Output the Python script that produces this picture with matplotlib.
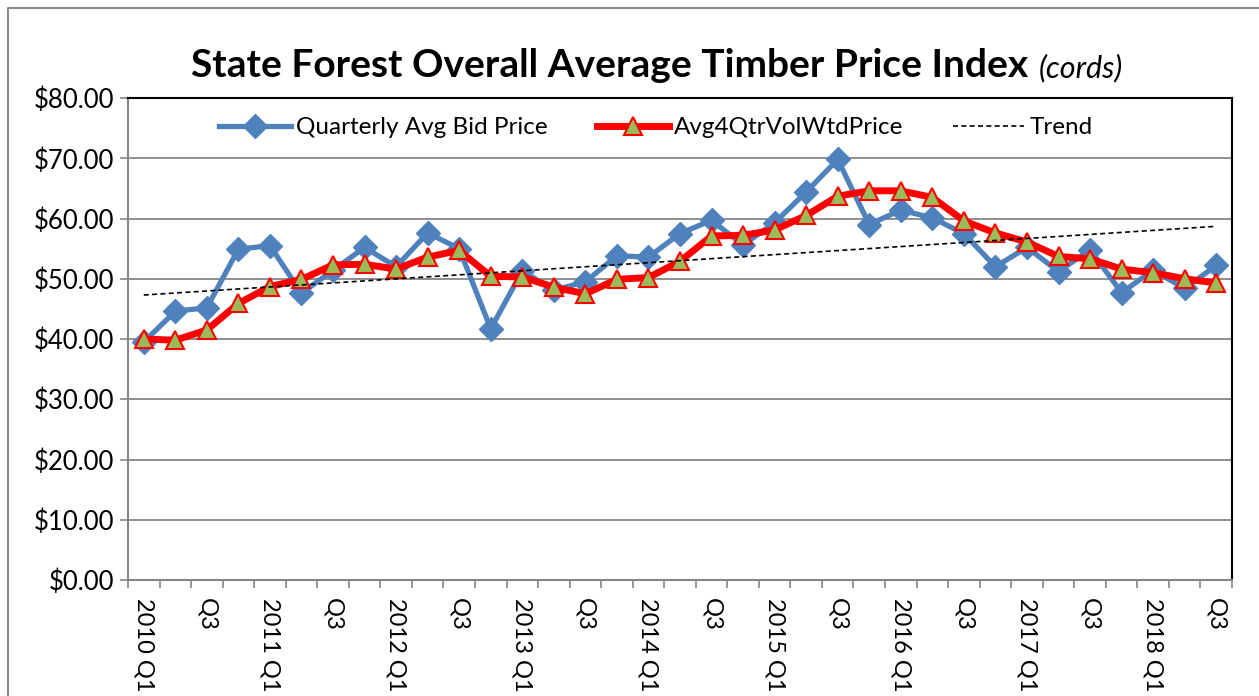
import numpy as np
import matplotlib
matplotlib.use('Agg')
import matplotlib.pyplot as plt
from matplotlib.lines import Line2D

plt.rcParams['font.family'] = ['Lato', 'DejaVu Sans']

# quarters 2010 Q1 .. 2018 Q3
years = list(range(2010, 2019))
quarters = []
for y in years:
    for q in (1, 2, 3, 4):
        quarters.append((y, q))
quarters = quarters[:35]

quarterly_avg = [39.5, 44.6, 45.2, 54.9, 55.5, 47.6, 51.4, 55.2, 52.0, 57.6,
                 55.0, 41.7, 51.3, 48.1, 49.5, 53.8, 53.6, 57.5, 59.7, 55.6,
                 59.3, 64.4, 69.8, 59.0, 61.4, 60.1, 57.5, 52.0, 55.2, 51.2,
                 54.8, 47.7, 51.4, 48.4, 52.2]
avg_4qtr = [40.0, 39.8, 41.5, 45.9, 48.7, 49.9, 52.3, 52.4, 51.6, 53.6,
            54.7, 50.4, 50.3, 48.6, 47.5, 49.9, 50.2, 52.9, 57.1, 57.2,
            58.1, 60.5, 63.7, 64.6, 64.6, 63.5, 59.6, 57.6, 56.1, 53.7,
            53.3, 51.6, 51.0, 50.0, 49.3]
trend_x = [0, 34]
trend_y = [47.3, 58.7]

tick_labels = []
for i, (y, q) in enumerate(quarters):
    if q == 1:
        tick_labels.append('%d Q1' % y)
    elif q == 3:
        tick_labels.append('Q3')
x = np.arange(len(quarters))

fig = plt.figure(figsize=(12.59, 6.96), dpi=100)
ax = fig.add_axes([128/1259, 1-580/696, 1104/1259, 482/696])

grey = '#868686'
ax.plot(x, quarterly_avg, color='#4F81BD', lw=3.8, marker='D', ms=12,
        mfc='#4F81BD', mec='#4F81BD', label='Quarterly Avg Bid Price', zorder=3)
ax.plot(x, avg_4qtr, color='#FF0000', lw=5, marker='^', ms=13,
        mfc='#9BBB59', mec='#FF0000', mew=1.5, label='Avg4QtrVolWtdPrice', zorder=4)
ax.plot(trend_x, trend_y, color='black', lw=1.2, ls=(0, (3, 2)), label='Trend', zorder=5)

ax.set_xlim(-0.5, len(quarters) - 0.5)
ax.set_ylim(0, 80)
ax.set_yticks(np.arange(0, 81, 10))
ax.set_yticklabels(['$%.2f' % v for v in np.arange(0, 81, 10)])
ax.yaxis.grid(True, color=grey, lw=1.3)
ax.set_axisbelow(True)

ax.set_xticks(x[::2])
ax.set_xticklabels(tick_labels, rotation=-90, va='top', ha='center')
ax.set_xticks(np.arange(-0.5, len(quarters)), minor=True)
ax.tick_params(axis='x', which='major', length=0, pad=13, labelsize=17)
ax.tick_params(axis='x', which='minor', length=6, color=grey, width=1.2)
ax.tick_params(axis='y', length=6, color=grey, width=1.2, labelsize=18.5, pad=4)

for s in ('left', 'bottom'):
    ax.spines[s].set_color(grey)
    ax.spines[s].set_linewidth(1.5)
for s in ('top', 'right'):
    ax.spines[s].set_color('black')
    ax.spines[s].set_linewidth(1.5)

ax.legend(loc='center', bbox_to_anchor=(0.478, 0.938), ncol=3, frameon=False,
          fontsize=17.5, handlelength=2.95, columnspacing=2.05, numpoints=1,
          handletextpad=0.2)

fig.text(1028/1259, 1-77/696, 'State Forest Overall Average Timber Price Index',
         ha='right', va='baseline', fontsize=28, fontweight='bold')
fig.text(1039/1259, 1-77/696, '(cords)', ha='left', va='baseline',
         fontsize=22, style='italic')

# outer chart border (cropped on right and bottom)
fig.add_artist(Line2D([8/1259, 8/1259, 1.0], [0.0, 1-8/696, 1-8/696],
                      transform=fig.transFigure, color='#8c8c8c', lw=1.5))

fig.savefig('out.png', dpi=100)
